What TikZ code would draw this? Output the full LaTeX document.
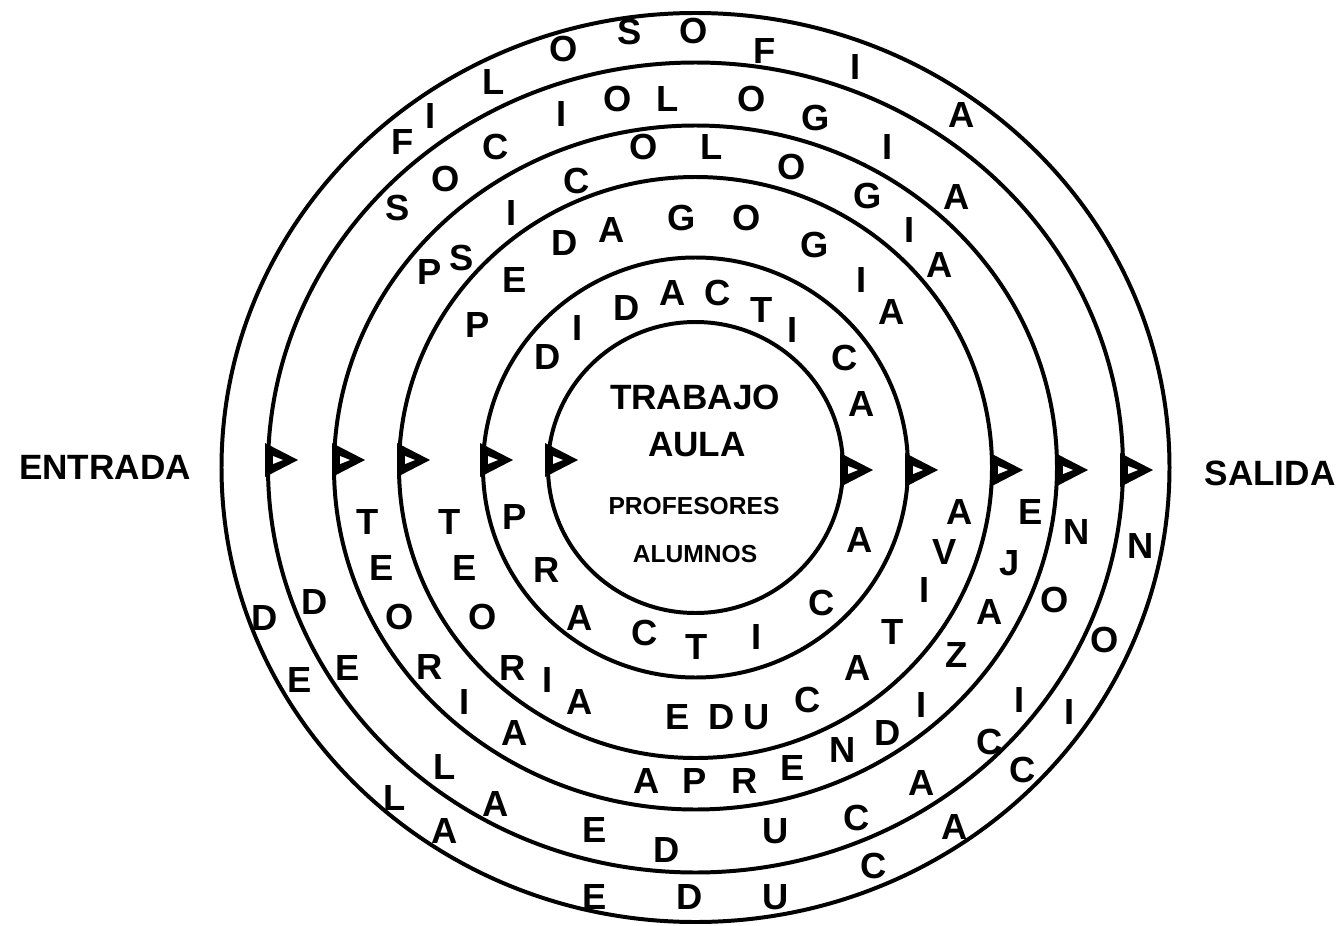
\documentclass[tikz,border=0pt]{standalone}
\usepackage{fontspec}
\setmainfont{Liberation Sans}
\usetikzlibrary{calc}
\definecolor{ringink}{HTML}{000000}

\tikzset{
  letra/.style={ringink, inner sep=0pt, font=\bfseries\fontsize{31}{31}\selectfont},
  rotulo/.style={ringink, inner sep=0pt, font=\bfseries\fontsize{30}{30}\selectfont},
  chico/.style={ringink, inner sep=0pt, font=\bfseries\fontsize{21}{21}\selectfont},
}

\begin{document}
\begin{tikzpicture}[x=0.03cm, y=-0.03cm, line width=3.4pt, line join=round]
  \useasboundingbox (0,0) rectangle (1337,926);
  \coordinate (O) at (695.5,467.5);

  % anillos (de fuera hacia dentro)
  \foreach \rx/\ry in {474/454.5, 427.5/405, 361.5/342, 296.5/290.5, 212.5/210, 147.5/145.5}
    \draw[ringink] (O) ellipse [x radius=\rx, y radius=\ry];

  % flechas de paso: entrada a la izquierda, salida a la derecha
  \foreach \bx/\by in {268/460, 335/460, 400/460, 483/460, 548/460,
                       843/470, 908/470, 993/470, 1058/470, 1123/470} {
    \fill[ringink] (\bx-3,\by-17) -- (\bx+30,\by) -- (\bx-3,\by+17) -- cycle;
    \fill[white] (\bx+5,\by-4) -- (\bx+15,\by) -- (\bx+5,\by+4) -- cycle;
  }

  % centro
  \node[rotulo] (trabajo) at (695,397) {TRABAJO};
  \node[rotulo] (aula) at (697,445) {AULA};
  \node[chico] (profesores) at (694,506) {PROFESORES};
  \node[chico] (alumnos) at (695,554) {ALUMNOS};

  \node[rotulo] (entrada) at (105,467) {ENTRADA};
  \node[rotulo] (salida) at (1270,473) {SALIDA};

  % anillo 1 (arriba / abajo)
  \foreach \x/\y/\l [count=\i] in {403/142/F, 431/116/I, 494/82/L, 564/49/O, 630/32/S,
      694/31/O, 765/51/F, 856/67/I, 962/115/A}
    \node[letra] (fil\i) at (\x,\y) {\l};
  \foreach \x/\y/\l [count=\i] in {265/618/D, 300/680/E, 395/798/L, 445/831/A, 595/897/E,
      690/897/D, 776/897/U, 874/866/C, 955/827/A, 1023/770/C, 1070/712/I, 1105/640/O, 1141/546/N}
    \node[letra] (edua\i) at (\x,\y) {\l};

  % anillo 2
  \foreach \x/\y/\l [count=\i] in {398/208/S, 446/179/O, 496/147/C, 562/114/I, 618/99/O,
      668/99/L, 752/99/O, 816/118/G, 888/147/I, 957/197/A}
    \node[letra] (soc\i) at (\x,\y) {\l};
  \foreach \x/\y/\l [count=\i] in {315/602/D, 348/668/E, 445/767/L, 496/804/A, 595/830/E,
      667/850/D, 776/831/U, 857/818/C, 922/783/A, 990/742/C, 1020/700/I, 1055/600/O, 1077/532/N}
    \node[letra] (edub\i) at (\x,\y) {\l};

  % anillo 3
  \foreach \x/\y/\l [count=\i] in {430/272/P, 462/258/S, 512/213/I, 577/181/C, 644/147/O,
      712/147/L, 792/167/O, 868/196/G, 910/230/I, 940/265/A}
    \node[letra] (psi\i) at (\x,\y) {\l};
  \foreach \x/\y/\l [count=\i] in {368/522/T, 382/568/E, 400/617/O, 430/667/R, 465/702/I,
      515/733/A, 647/781/A, 695/781/P, 745/781/R, 793/768/E, 843/750/N, 888/733/D,
      922/705/I, 957/655/Z, 990/612/A, 1010/563/J, 1031/512/E}
    \node[letra] (apr\i) at (\x,\y) {\l};

  % anillo 4
  \foreach \x/\y/\l [count=\i] in {478/325/P, 515/280/E, 565/243/D, 612/230/A, 682/218/G,
      747/218/O, 815/245/G, 862/280/I, 892/312/A}
    \node[letra] (ped\i) at (\x,\y) {\l};
  \foreach \x/\y/\l [count=\i] in {450/522/T, 465/568/E, 483/617/O, 513/668/R, 548/680/I,
      580/702/A, 678/717/E, 722/717/D, 757/717/U, 808/700/C, 858/668/A, 893/632/T,
      925/590/I, 945/552/V, 960/512/A}
    \node[letra] (edc\i) at (\x,\y) {\l};

  % anillo 5
  \foreach \x/\y/\l [count=\i] in {548/357/D, 578/328/I, 627/308/D, 673/293/A, 718/293/C,
      762/310/T, 793/330/I, 845/358/C, 862/404/A}
    \node[letra] (did\i) at (\x,\y) {\l};
  \foreach \x/\y/\l [count=\i] in {515/517/P, 547/570/R, 580/618/A, 645/633/C, 697/647/T,
      757/637/I, 822/603/C, 860/540/A}
    \node[letra] (pra\i) at (\x,\y) {\l};
\end{tikzpicture}
\end{document}
